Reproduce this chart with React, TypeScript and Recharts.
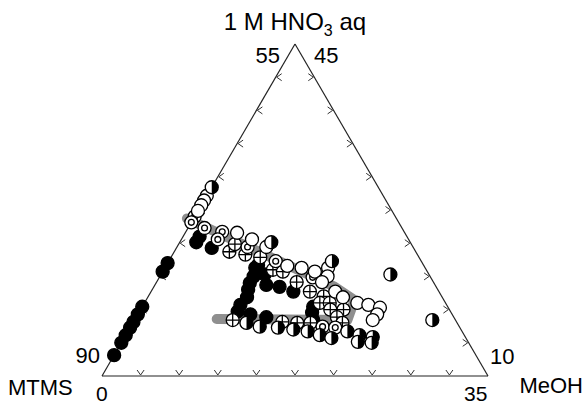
import React from 'react';
import { ScatterChart, Scatter, XAxis, YAxis, ReferenceLine } from 'recharts';

// Compositions: [MeOH, 1 M HNO3 aq]; MTMS = 100 - MeOH - HNO3
const blackPts: [number, number][] = [
  [0, 12.2], [0, 13.5], [0, 14.3], [0, 15.1], [0, 15.7], [0, 16.5], [0, 17.3], [0, 21.0], [0, 21.9],
  [1.5, 24.7], [1.5, 24.1], [3.2, 23.5],
  [8.3, 21.7], [8.2, 21.4], [8.5, 20.5], [8.5, 19.8], [8.7, 19.1], [9.0, 18.3], [8.8, 17.5], [8.9, 16.8],
  [10.2, 16.5], [11.8, 16.2],
  [9.4, 20.7], [10.1, 19.6], [11.4, 19.4], [12.9, 18.9],
  [15.5, 17.3], [15.7, 16.7], [16.2, 15.9],
];
const crossPts: [number, number][] = [
  [5.0, 23.1], [5.1, 23.9], [6.6, 22.8], [8.1, 22.5], [9.9, 21.2], [10.9, 21.0], [12.7, 19.9],
  [14.4, 18.9], [15.9, 18.4], [15.9, 17.7], [16.8, 17.7], [17.2, 17.0], [18.4, 17.0], [18.2, 16.2], [19.0, 15.6],
  [8.9, 15.9], [13.5, 15.7], [14.9, 15.6], [16.1, 15.6],
];
const bullseyePts: [number, number][] = [
  [0, 26.8], [0, 26.2], [1.5, 25.6], [3.3, 25.2], [3.3, 24.4], [6.4, 23.6], [9.7, 22.1], [13.9, 20.4],
  [17.4, 15.2], [18.6, 15.1],
];
const openPts: [number, number][] = [
  [0, 29.0], [0, 28.5], [0, 28.0], [0, 27.4],
  [4.7, 25.1], [6.4, 24.4], [8.1, 23.6], [11.0, 21.6], [12.4, 21.4], [13.8, 21.0], [14.8, 21.4], [15.2, 20.5], [15.0, 19.9],
  [16.7, 18.9], [17.7, 18.3], [19.3, 17.7], [20.4, 17.5], [21.6, 17.2], [21.7, 16.5], [21.6, 15.9],
];
const halfPts: [number, number][] = [
  [0, 29.9], [8.3, 24.1], [14.8, 22.1], [20.8, 20.7], [27.0, 15.9],
  [10.3, 15.6], [11.7, 15.2], [13.4, 15.1], [14.9, 14.9], [16.3, 14.7], [17.6, 14.3], [18.8, 14.0],
  [19.9, 14.7], [21.2, 14.3], [22.5, 14.1], [21.4, 13.6], [22.7, 13.5],
];
// grey shaded band
const bandPts: [number, number][] = [
  [-0.6, 26.6], [16.4, 19.4], [18.9, 18.0], [19.3, 15.9], [7.4, 16.0],
];
// corners [MeOH, HNO3]
const cornerMTMS: [number, number] = [0, 10];
const cornerHNO3: [number, number] = [0, 45];
const cornerMeOH: [number, number] = [35, 10];
const tickSteps = [3.5, 7, 10.5, 14, 17.5, 21, 24.5, 28, 31.5];
const labelTexts = [
  { key: 'title', at: cornerHNO3 },
  { key: '55', at: cornerHNO3 },
  { key: '45', at: cornerHNO3 },
  { key: '90', at: cornerMTMS },
  { key: '0', at: cornerMTMS },
  { key: 'MTMS', at: cornerMTMS },
  { key: '10', at: cornerMeOH },
  { key: '35', at: cornerMeOH },
  { key: 'MeOH', at: cornerMeOH },
];

const H = Math.sqrt(3) / 2;
const toXY = ([meoh, hno3]: [number, number]) => ({ x: meoh + (hno3 - 10) / 2, y: (hno3 - 10) * H });

const W = 585;
const HT = 407;
const sx = 386 / 35;
const xMin = -102 / sx;
const xMax = xMin + W / sx;
const sy = 332 / (35 * H);
const yMin = -(HT - 376) / sy;
const yMax = 376 / sy;

const R = 6.5;
const SW = 1.3;
const FONT = 'Liberation Sans, Arial, sans-serif';

const Black = (p: any) => <circle cx={p.cx} cy={p.cy} r={R} fill="#000" stroke="#000" strokeWidth={SW} />;
const Open = (p: any) => <circle cx={p.cx} cy={p.cy} r={R} fill="#fff" stroke="#000" strokeWidth={SW} />;
const Bull = (p: any) => (
  <g>
    <circle cx={p.cx} cy={p.cy} r={R} fill="#fff" stroke="#000" strokeWidth={SW} />
    <circle cx={p.cx} cy={p.cy} r={R * 0.45} fill="none" stroke="#000" strokeWidth={SW} />
  </g>
);
const Cross = (p: any) => (
  <g>
    <circle cx={p.cx} cy={p.cy} r={R} fill="#fff" stroke="#000" strokeWidth={SW} />
    <path d={`M${p.cx - R},${p.cy} L${p.cx + R},${p.cy} M${p.cx},${p.cy - R} L${p.cx},${p.cy + R}`} stroke="#000" strokeWidth={SW} />
  </g>
);
const Half = (p: any) => (
  <g>
    <circle cx={p.cx} cy={p.cy} r={R} fill="#fff" stroke="#000" strokeWidth={SW} />
    <path d={`M${p.cx},${p.cy - R} A${R},${R} 0 0 1 ${p.cx},${p.cy + R} Z`} fill="#000" />
  </g>
);
const Nothing = () => <g />;

const Chevron = (p: any) => {
  const { cx, cy, payload } = p;
  let d = '';
  if (payload.side === 'b') d = `M${cx - 3.5},${cy - 6} L${cx},${cy - 1} L${cx + 3.5},${cy - 6}`;
  else if (payload.side === 'l') d = `M${cx + 6},${cy - 3.5} L${cx + 1},${cy} L${cx + 6},${cy + 3.5}`;
  else d = `M${cx - 6},${cy - 3.5} L${cx - 1},${cy} L${cx - 6},${cy + 3.5}`;
  return <path d={d} fill="none" stroke="#333" strokeWidth={1} />;
};

const labelStyle: Record<string, { dx: number; dy: number; anchor: 'start' | 'middle' | 'end'; size: number }> = {
  title: { dx: 0, dy: -14, anchor: 'middle', size: 24 },
  '55': { dx: -15, dy: 19, anchor: 'end', size: 22 },
  '45': { dx: 19, dy: 19, anchor: 'start', size: 22 },
  '90': { dx: -2, dy: -13, anchor: 'end', size: 22 },
  '0': { dx: -6, dy: 25, anchor: 'start', size: 21 },
  MTMS: { dx: -94, dy: 19, anchor: 'start', size: 22 },
  '10': { dx: 2, dy: -12, anchor: 'start', size: 22 },
  '35': { dx: -24, dy: 25, anchor: 'start', size: 21 },
  MeOH: { dx: 95, dy: 17, anchor: 'end', size: 22 },
};

const Label = (p: any) => {
  const { cx, cy, payload } = p;
  const st = labelStyle[payload.key];
  if (payload.key === 'title') {
    return (
      <text x={cx + st.dx} y={cy + st.dy} textAnchor={st.anchor} fontSize={st.size} fontFamily={FONT} fill="#000">
        1 M HNO<tspan fontSize={16} dy={6}>3</tspan><tspan dy={-6}> aq</tspan>
      </text>
    );
  }
  return (
    <text x={cx + st.dx} y={cy + st.dy} textAnchor={st.anchor} fontSize={st.size} fontFamily={FONT} fill="#000">
      {payload.key}
    </text>
  );
};

export default function App() {
  const tickData = [
    ...tickSteps.map((s) => ({ ...toXY([s, 10]), side: 'b' })),
    ...tickSteps.map((s) => ({ ...toXY([0, 10 + s]), side: 'l' })),
    ...tickSteps.map((s) => ({ ...toXY([35 - s, 10 + s]), side: 'r' })),
  ];
  const labels = labelTexts.map((l) => ({ ...toXY(l.at), key: l.key }));
  const A = toXY(cornerMTMS);
  const B = toXY(cornerHNO3);
  const C = toXY(cornerMeOH);
  return (
    <div style={{ position: 'absolute', left: 0, top: 0, background: '#fff' }}>
      <ScatterChart width={W} height={HT} margin={{ top: 0, right: 0, bottom: 0, left: 0 }}>
        <XAxis type="number" dataKey="x" domain={[xMin, xMax]} allowDataOverflow hide />
        <YAxis type="number" dataKey="y" domain={[yMin, yMax]} allowDataOverflow hide />
        <Scatter
          data={bandPts.map(toXY)}
          line={{ stroke: '#8f8f8f', strokeWidth: 10, strokeLinejoin: 'round', strokeLinecap: 'round' }}
          shape={Nothing}
          isAnimationActive={false}
        />
        <ReferenceLine segment={[A, B]} stroke="#222" strokeWidth={1.2} ifOverflow="visible" />
        <ReferenceLine segment={[B, C]} stroke="#222" strokeWidth={1.2} ifOverflow="visible" />
        <ReferenceLine segment={[A, C]} stroke="#222" strokeWidth={1.2} ifOverflow="visible" />
        <Scatter data={tickData} shape={Chevron} isAnimationActive={false} />
        <Scatter data={blackPts.map(toXY)} shape={Black} isAnimationActive={false} />
        <Scatter data={crossPts.map(toXY)} shape={Cross} isAnimationActive={false} />
        <Scatter data={bullseyePts.map(toXY)} shape={Bull} isAnimationActive={false} />
        <Scatter data={openPts.map(toXY)} shape={Open} isAnimationActive={false} />
        <Scatter data={halfPts.map(toXY)} shape={Half} isAnimationActive={false} />
        <Scatter data={labels} shape={Label} isAnimationActive={false} />
      </ScatterChart>
    </div>
  );
}
